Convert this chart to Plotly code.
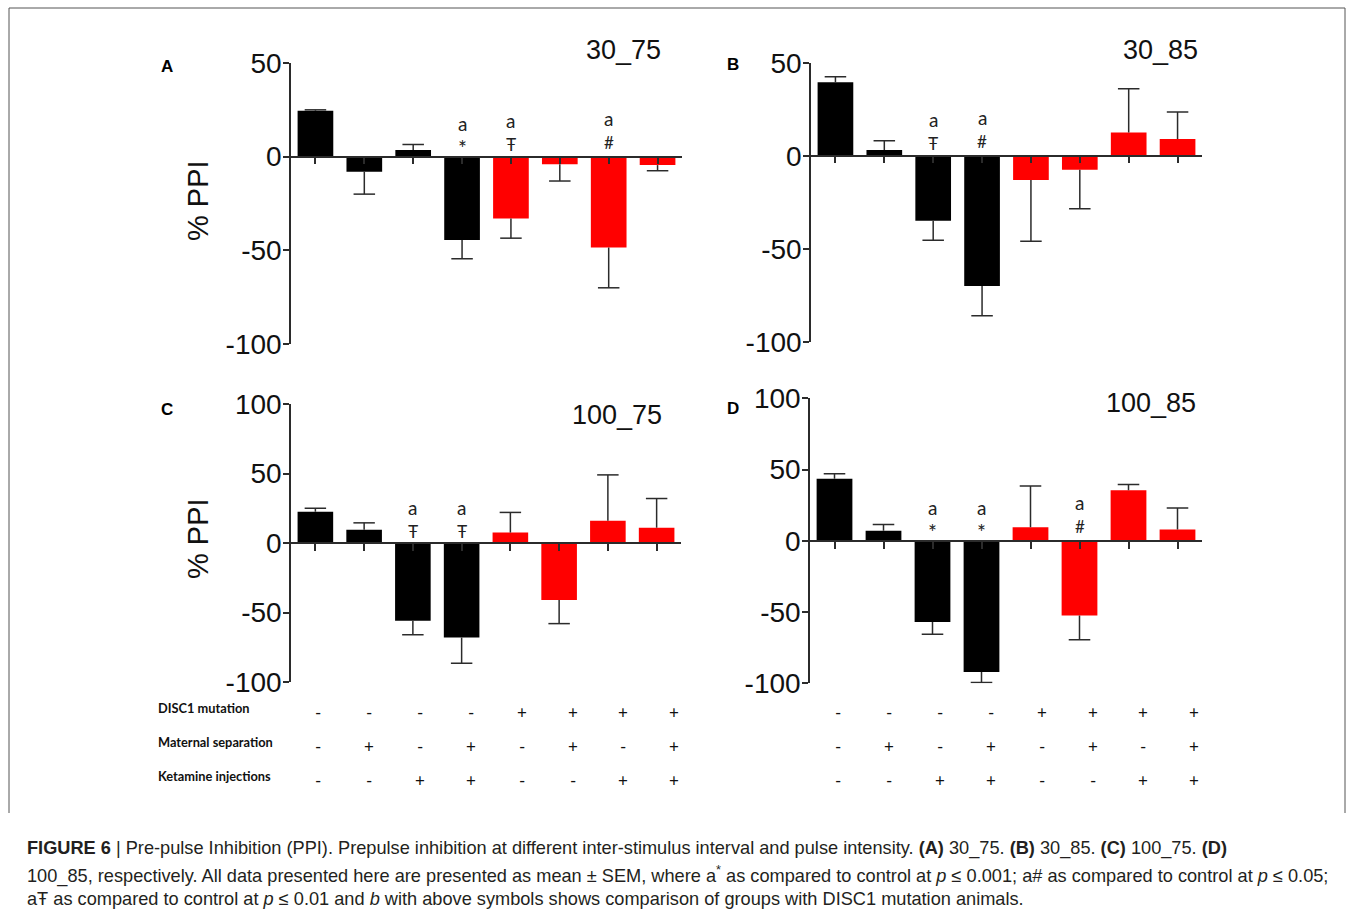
import plotly.graph_objects as go

W, H = 1354, 920

# ---------------- data ----------------
groups = ["G1", "G2", "G3", "G4", "G5", "G6", "G7", "G8"]
disc1_mutation = ["-", "-", "-", "-", "+", "+", "+", "+"]
maternal_separation = ["-", "+", "-", "+", "-", "+", "-", "+"]
ketamine_injections = ["-", "-", "+", "+", "-", "-", "+", "+"]
row_labels = ["DISC1 mutation", "Maternal separation", "Ketamine injections"]

panel_letters = ["A", "B", "C", "D"]
panel_titles = ["30_75", "30_85", "100_75", "100_85"]

mean_A = [24.5, -8.0, 3.5, -44.5, -33.0, -4.0, -48.5, -4.5]
sem_A = [0.5, 12.0, 3.0, 10.0, 10.5, 9.0, 21.5, 3.0]
sig_A = ["", "", "", "*", "Ŧ", "", "#", ""]

mean_B = [39.5, 3.0, -35.0, -70.0, -13.0, -7.5, 12.5, 9.0]
sem_B = [3.0, 5.0, 10.5, 16.0, 33.0, 21.0, 23.5, 14.5]
sig_B = ["", "", "Ŧ", "#", "", "", "", ""]

mean_C = [22.5, 9.5, -56.0, -68.0, 7.5, -41.0, 16.0, 11.0]
sem_C = [2.5, 5.0, 10.0, 18.5, 14.5, 17.0, 33.0, 21.0]
sig_C = ["", "", "Ŧ", "Ŧ", "", "", "", ""]

mean_D = [43.5, 7.0, -57.0, -92.0, 9.5, -52.5, 35.5, 8.0]
sem_D = [3.5, 4.5, 8.5, 7.5, 29.0, 17.0, 4.0, 15.0]
sig_D = ["", "", "*", "*", "", "#", "", ""]

yticks_AB = [50, 0, -50, -100]
yticks_CD = [100, 50, 0, -50, -100]

# ---------------- style ----------------
BLACK = "#000000"
RED = "#ff0000"
AXC = "#2b2b2b"
CAP = 0.22
BARW = 0.73
TICKFONT = dict(family="Liberation Sans, Arial, sans-serif", size=28, color="#111111")

# pixel boxes: (x_left, x_right, y_top, y_bottom)
boxes = [(291, 682, 63, 344), (811, 1202, 62.7, 341.7),
         (291, 681, 404, 682), (810, 1202, 398.3, 683.3)]
panels = [
    dict(mean=mean_A, sem=sem_A, sig=sig_A, ticks=yticks_AB),
    dict(mean=mean_B, sem=sem_B, sig=sig_B, ticks=yticks_AB),
    dict(mean=mean_C, sem=sem_C, sig=sig_C, ticks=yticks_CD),
    dict(mean=mean_D, sem=sem_D, sig=sig_D, ticks=yticks_CD),
]
letter_pos = [(167, 66), (733, 65), (167, 409), (733, 408)]
title_pos = [(623, 50), (1160, 50), (617, 415), (1151, 403)]
sym_shift = {"*": 9, "Ŧ": 12, "#": 14}
sym_size = {"*": 21, "Ŧ": 17, "#": 17}

fig = go.Figure()
layout = dict(width=W, height=H, autosize=False,
              margin=dict(l=0, r=0, t=0, b=0, pad=0, autoexpand=False),
              paper_bgcolor="white", plot_bgcolor="white",
              showlegend=False)
annotations = []
shapes = []

xs = list(range(len(groups)))
colors = [RED if d == "+" else BLACK for d in disc1_mutation]

for k, p in enumerate(panels):
    suf = "" if k == 0 else str(k + 1)
    xa, ya = "x" + suf, "y" + suf
    fig.add_trace(go.Bar(x=xs, y=p["mean"], width=BARW,
                         marker=dict(color=colors, line=dict(width=0)),
                         xaxis=xa, yaxis=ya, hoverinfo="skip"))
    ex, ey = [], []
    for i, (m, s) in enumerate(zip(p["mean"], p["sem"])):
        tip = m + s if m >= 0 else m - s
        ex += [i, i, None, i - CAP, i + CAP, None]
        ey += [m, tip, None, tip, tip, None]
    fig.add_trace(go.Scatter(x=ex, y=ey, mode="lines",
                             line=dict(color=AXC, width=1.5),
                             xaxis=xa, yaxis=ya, hoverinfo="skip"))

    x0, x1, yt, yb = boxes[k]
    dx = [x0 / W, x1 / W]
    dy = [1 - yb / H, 1 - yt / H]
    ymin, ymax = min(p["ticks"]), max(p["ticks"])
    zero = dy[0] + (0 - ymin) / (ymax - ymin) * (dy[1] - dy[0])
    layout["xaxis" + suf] = dict(domain=dx, range=[-0.5, len(groups) - 0.5],
                                 anchor="free", position=zero, automargin=False,
                                 showline=True, linecolor=AXC, linewidth=1.5,
                                 ticks="outside", ticklen=7, tickwidth=1.5,
                                 tickcolor=AXC, tickvals=xs,
                                 showticklabels=False, showgrid=False,
                                 zeroline=False, fixedrange=True)
    layout["yaxis" + suf] = dict(domain=dy, range=[ymin, ymax], anchor=xa,
                                 automargin=False,
                                 showline=True, linecolor=AXC, linewidth=1.5,
                                 ticks="outside", ticklen=6, tickwidth=1.5,
                                 tickcolor=AXC, tickvals=p["ticks"],
                                 ticktext=[str(v) for v in p["ticks"]],
                                 ticklabelstandoff=-4,
                                 tickfont=TICKFONT, showgrid=False,
                                 zeroline=False, fixedrange=True)

    # significance marks
    for i, s in enumerate(p["sig"]):
        if not s:
            continue
        sh = sym_shift[s]
        annotations.append(dict(x=i, y=0, xref=xa, yref=ya, text=s,
                                showarrow=False, yanchor="middle", yshift=sh,
                                font=dict(family="Lato, sans-serif",
                                          size=sym_size[s], color="#222")))
        annotations.append(dict(x=i, y=0, xref=xa, yref=ya, text="a",
                                showarrow=False, yanchor="middle", yshift=sh + 24,
                                font=dict(family="Lato, sans-serif", size=19,
                                          color="#222")))

    lx, ly = letter_pos[k]
    annotations.append(dict(x=lx / W, y=1 - ly / H, xref="paper", yref="paper",
                            text="<b>%s</b>" % panel_letters[k], showarrow=False,
                            xanchor="center", yanchor="middle",
                            font=dict(family="Liberation Sans, Arial", size=17,
                                      color="#000")))
    tx, ty = title_pos[k]
    annotations.append(dict(x=tx / W, y=1 - ty / H, xref="paper", yref="paper",
                            text=panel_titles[k], showarrow=False,
                            xanchor="center", yanchor="middle",
                            font=dict(family="Liberation Sans, Arial", size=27,
                                      color="#111")))

# y-axis titles (A and C)
for yc in (200, 538):
    annotations.append(dict(x=198 / W, y=1 - yc / H, xref="paper", yref="paper",
                            text="% PPI", textangle=-90, showarrow=False,
                            xanchor="center", yanchor="middle",
                            font=dict(family="Liberation Sans, Arial", size=29,
                                      color="#111")))

# treatment table
rows = [disc1_mutation, maternal_separation, ketamine_injections]
row_y = [708, 742, 776]
col_start = [318, 838]
col_step = 50.9
for r, (lab, vals) in enumerate(zip(row_labels, rows)):
    annotations.append(dict(x=156 / W, y=1 - row_y[r] / H, xref="paper",
                            yref="paper", text="<b>%s</b>" % lab,
                            showarrow=False, xanchor="left", yanchor="middle",
                            font=dict(family="Lato, sans-serif", size=12.8,
                                      color="#111")))
    for cs in col_start:
        for i, v in enumerate(vals):
            annotations.append(dict(x=(cs + i * col_step) / W,
                                    y=1 - (row_y[r] + 4) / H,
                                    xref="paper", yref="paper", text=v,
                                    showarrow=False, xanchor="center",
                                    yanchor="middle",
                                    font=dict(family="Lato, sans-serif",
                                              size=17, color="#111")))

# caption
cap_lines = [
    "<b>FIGURE 6</b> | Pre-pulse Inhibition (PPI). Prepulse inhibition at different "
    "inter-stimulus interval and pulse intensity. <b>(A)</b> 30_75. <b>(B)</b> 30_85. "
    "<b>(C)</b> 100_75. <b>(D)</b>",
    "100_85, respectively. All data presented here are presented as mean ± SEM, where "
    "a<sup>*</sup> as compared to control at <i>p</i> ≤ 0.001; a# as compared to control "
    "at <i>p</i> ≤ 0.05;",
    "aŦ as compared to control at <i>p</i> ≤ 0.01 and <i>b</i> with above symbols shows "
    "comparison of groups with DISC1 mutation animals.",
]
cap_y = [848, 874, 899]
for line, cy in zip(cap_lines, cap_y):
    annotations.append(dict(x=25 / W, y=1 - cy / H, xref="paper", yref="paper",
                            text=line, showarrow=False, xanchor="left",
                            yanchor="middle",
                            font=dict(family="Liberation Sans, Arial", size=18.2,
                                      color="#231f20")))

# frame around the figure panel (open at the bottom)
for (ax0, ay0, ax1, ay1) in [(9, 8, 1345, 8), (9, 8, 9, 813), (1345, 8, 1345, 813)]:
    shapes.append(dict(type="line", xref="paper", yref="paper",
                       x0=ax0 / W, x1=ax1 / W, y0=1 - ay0 / H, y1=1 - ay1 / H,
                       line=dict(color="#555", width=1)))

layout["annotations"] = annotations
layout["shapes"] = shapes
fig.update_layout(**layout)
fig.write_html("out.html",
               config={"displayModeBar": False},
               post_script="document.body.style.margin='0';"
                           "document.body.style.overflow='hidden';")
